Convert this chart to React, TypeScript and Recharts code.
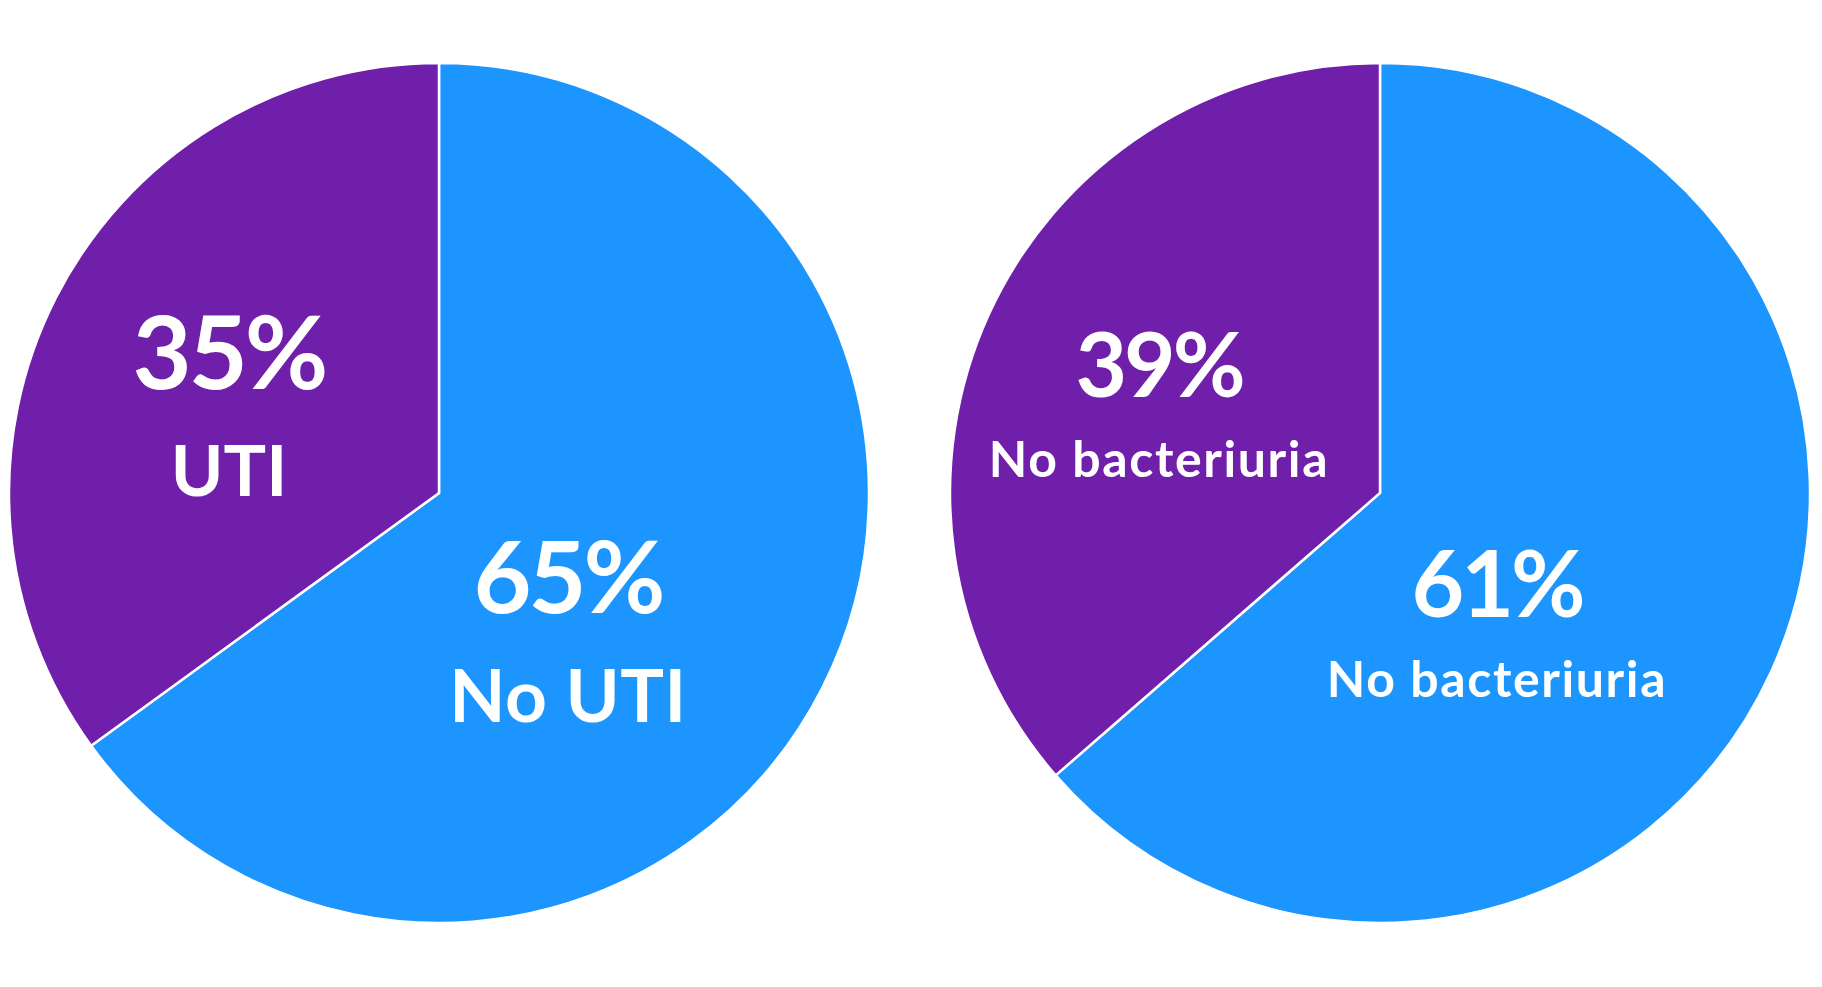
import { Cell, Pie, PieChart } from "recharts";

// left pie: UTI outcome
const utiNames = ["No UTI", "UTI"];
const utiValues = [65, 35];
const utiLabels = ["65%", "35%"];

// right pie: bacteriuria outcome (slice sizes)
const bactNames = ["No bacteriuria", "No bacteriuria"];
const bactValues = [63.6, 36.4];
const bactLabels = ["61%", "39%"];

const colors = ["#1C95FE", "#6F1FAA"];

const utiData = utiNames.map((name, i) => ({ name, value: utiValues[i], pct: utiLabels[i] }));
const bactData = bactNames.map((name, i) => ({ name, value: bactValues[i], pct: bactLabels[i] }));

// text placement relative to pie centre:
// [dx, pct baseline dy, name baseline dy, pct size, name size, name letter spacing]
const utiText = [
  [129, 120, 229, 100, 73, 0.5],
  [-210, -104, 3, 102, 71, 0],
];
const bactText = [
  [117, 124, 204, 91, 50, 1.6],
  [-221, -96, -16, 89, 50, 1.6],
];

const font = "Lato, 'Noto Sans', sans-serif";

function makeLabel(layout: number[][]) {
  return (props: any) => {
    const { cx, cy, index, payload } = props;
    const [dx, dy1, dy2, s1, s2, ls] = layout[index];
    const p = payload.payload ?? payload;
    return (
      <g key={`lbl-${index}`}>
        <text
          x={cx + dx}
          y={cy + dy1}
          textAnchor="middle"
          fill="#fff"
          fontFamily={font}
          fontWeight={700}
          fontSize={s1}
          letterSpacing={-3}
        >
          {p.pct}
        </text>
        <text
          x={cx + dx}
          y={cy + dy2}
          textAnchor="middle"
          fill="#fff"
          fontFamily={font}
          fontWeight={700}
          fontSize={s2}
          letterSpacing={ls}
        >
          {p.name}
        </text>
      </g>
    );
  };
}

export default function App() {
  return (
    <div style={{ position: "absolute", left: 0, top: 0 }}>
      <PieChart width={1822} height={987}>
        <Pie
          data={utiData}
          dataKey="value"
          cx={434}
          cy={488}
          outerRadius={430}
          startAngle={90}
          endAngle={-270}
          stroke="#fff"
          strokeWidth={2.5}
          labelLine={false}
          label={makeLabel(utiText)}
          isAnimationActive={false}
        >
          {utiData.map((_, i) => (
            <Cell key={`u-${i}`} fill={colors[i]} />
          ))}
        </Pie>
        <Pie
          data={bactData}
          dataKey="value"
          cx={1375}
          cy={488}
          outerRadius={430}
          startAngle={90}
          endAngle={-270}
          stroke="#fff"
          strokeWidth={2.5}
          labelLine={false}
          label={makeLabel(bactText)}
          isAnimationActive={false}
        >
          {bactData.map((_, i) => (
            <Cell key={`b-${i}`} fill={colors[i]} />
          ))}
        </Pie>
      </PieChart>
    </div>
  );
}
